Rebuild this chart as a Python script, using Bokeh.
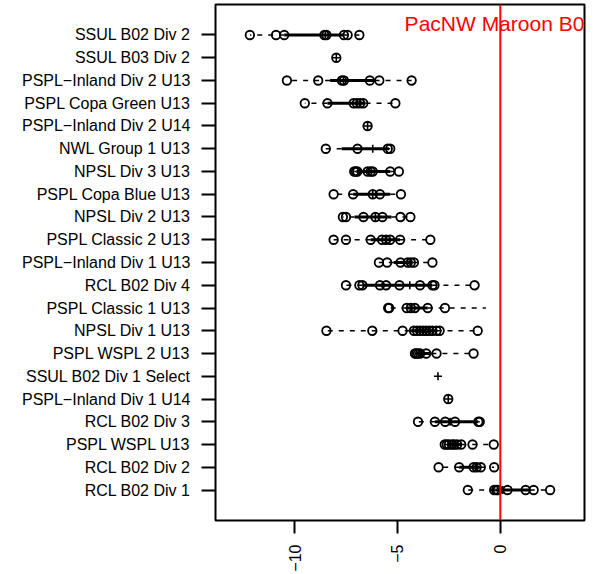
import math
from bokeh.plotting import figure
from bokeh.models import Range1d, FixedTicker, Span
from bokeh.embed import file_html
from bokeh.resources import INLINE
from bokeh.core.properties import value

# Groups, listed from top to bottom
categories = [
    "SSUL B02 Div 2", "SSUL B03 Div 2", "PSPL\u2212Inland Div 2 U13", "PSPL Copa Green U13",
    "PSPL\u2212Inland Div 2 U14", "NWL Group 1 U13", "NPSL Div 3 U13", "PSPL Copa Blue U13",
    "NPSL Div 2 U13", "PSPL Classic 2 U13", "PSPL\u2212Inland Div 1 U13", "RCL B02 Div 4",
    "PSPL Classic 1 U13", "NPSL Div 1 U13", "PSPL WSPL 2 U13", "SSUL B02 Div 1 Select",
    "PSPL\u2212Inland Div 1 U14", "RCL B02 Div 3", "PSPL WSPL U13", "RCL B02 Div 2", "RCL B02 Div 1",
]

# Individual values (circles) per group
points = [
    [-12.17, -10.9, -10.5, -8.55, -8.45, -7.6, -7.42, -6.85],
    [-7.97],
    [-10.37, -8.85, -7.7, -7.6, -6.34, -5.88, -4.31],
    [-9.5, -8.4, -7.13, -6.97, -6.81, -6.66, -5.1],
    [-6.45],
    [-8.48, -6.94, -5.47, -5.35],
    [-7.1, -7.02, -6.95, -6.45, -6.3, -6.2, -5.35, -4.93],
    [-8.1, -7.15, -6.2, -5.85, -4.83],
    [-7.65, -7.5, -6.65, -6.07, -5.73, -4.85, -4.37],
    [-8.1, -7.5, -6.3, -5.75, -5.55, -5.35, -4.87, -3.4],
    [-5.9, -5.5, -4.85, -4.5, -4.35, -4.2, -3.3],
    [-7.5, -6.85, -6.7, -5.85, -5.55, -4.9, -3.9, -3.3, -3.2, -1.25],
    [-5.45, -5.4, -4.55, -4.35, -4.15, -3.53, -2.69],
    [-8.45, -6.22, -4.75, -4.2, -4.05, -3.9, -3.75, -3.6, -3.45, -3.3, -3.1, -2.95, -1.1],
    [-4.15, -4.08, -4.0, -3.9, -3.6, -3.1, -1.3],
    [],
    [-2.53],
    [-4.0, -3.18, -2.68, -2.2, -1.07, -1.0],
    [-2.7, -2.6, -2.5, -2.35, -2.25, -2.1, -1.9, -1.35, -0.32],
    [-3.0, -2.0, -1.3, -1.15, -0.95, -0.3],
    [-1.58, -0.3, -0.2, -0.12, 0.35, 1.23, 1.62, 2.42],
]

# Box statistics per group
whisker_lo = [-12.17, -7.97, -10.37, -9.5, -6.45, -8.48, -7.1, -8.1, -7.65, -8.1, -5.9,
              -7.5, -5.45, -8.45, -4.15, -3.03, -2.53, -4.0, -2.7, -3.0, -1.58]
hinge_lo = [-10.5, -7.97, -8.27, -8.4, -6.45, -7.71, -7.0, -7.15, -7.08, -6.3, -5.18,
            -6.7, -4.55, -4.4, -4.05, -3.03, -2.53, -3.18, -2.5, -2.0, -0.25]
median = [-8.5, -7.97, -7.62, -6.97, -6.45, -6.2, -6.38, -6.2, -6.07, -5.55, -4.5,
          -4.4, -4.3, -3.75, -3.9, -3.03, -2.53, -2.44, -2.25, -1.22, 0.12]
hinge_hi = [-7.6, -7.97, -6.11, -6.55, -6.45, -5.41, -5.35, -5.35, -5.29, -4.87, -4.28,
            -3.3, -3.53, -3.1, -3.35, -3.03, -2.53, -1.07, -1.9, -0.95, 1.43]
whisker_hi = [-6.85, -7.97, -4.31, -5.1, -6.45, -5.35, -4.93, -4.83, -4.37, -3.4, -3.3,
              -1.25, -0.7, -1.1, -1.3, -3.03, -2.53, -1.0, -0.32, -0.3, 2.42]

x_ticks = [-10, -5, 0]
x_tick_labels = ["\u221210", "\u22125", "0"]
reference_label = "PacNW Maroon B02"
reference_value = 0

n = len(categories)
ypos = [n - i for i in range(n)]
pt_x = [v for grp in points for v in grp]
pt_y = [ypos[i] for i, grp in enumerate(points) for _ in grp]

FONT = "Liberation Sans"

p = figure(frame_width=369, frame_height=516, output_backend="svg", toolbar_location=None,
           x_range=Range1d(-13.84, 4.09), y_range=Range1d(-0.34, 22.34),
           min_border_left=215, min_border_right=3, min_border_top=4, min_border_bottom=0,
           background_fill_color="white", border_fill_color="white")
p.xgrid.visible = False
p.ygrid.visible = False
p.outline_line_color = "black"
p.outline_line_width = 2
p.outline_line_alpha = 1.0

# whiskers (dashed)
p.segment(x0=hinge_lo, y0=ypos, x1=whisker_lo, y1=ypos, line_color="black",
          line_width=1.6, line_dash="5 6")
p.segment(x0=hinge_hi, y0=ypos, x1=whisker_hi, y1=ypos, line_color="black",
          line_width=1.6, line_dash="5 6")
# boxes
p.segment(x0=hinge_lo, y0=ypos, x1=hinge_hi, y1=ypos, line_color="black", line_width=3)
# medians
p.scatter(x=median, y=ypos, marker="cross", size=8, line_color="black", line_width=1.6)
# points
p.scatter(x=pt_x, y=pt_y, marker="circle", size=8.5, fill_color=None,
          line_color="black", line_width=1.8)

p.add_layout(Span(location=reference_value, dimension="height", line_color="#ff0000", line_width=2))
p.text(x=[reference_value], y=[21.5], text=[reference_label], text_color="#ff0000",
       text_font=value(FONT), text_font_size="21px", text_align="center",
       text_baseline="middle")

for ax in (p.xaxis[0], p.yaxis[0]):
    ax.axis_line_color = None
    ax.minor_tick_line_color = None
    ax.major_tick_in = 0
    ax.major_tick_line_color = "black"
    ax.major_tick_line_width = 2
    ax.major_label_text_font = FONT
    ax.major_label_text_font_size = "16px"
    ax.major_label_text_color = "black"

p.xaxis.ticker = FixedTicker(ticks=x_ticks)
p.xaxis.major_label_overrides = {t: s for t, s in zip(x_ticks, x_tick_labels)}
p.xaxis.major_label_orientation = math.pi / 2
p.xaxis.major_tick_out = 13
p.xaxis.major_label_standoff = 11

p.yaxis.ticker = FixedTicker(ticks=ypos)
p.yaxis.major_label_overrides = {y: c for y, c in zip(ypos, categories)}
p.yaxis.major_tick_out = 14
p.yaxis.major_label_standoff = 11

open("out.html", "w").write(file_html(p, INLINE))
